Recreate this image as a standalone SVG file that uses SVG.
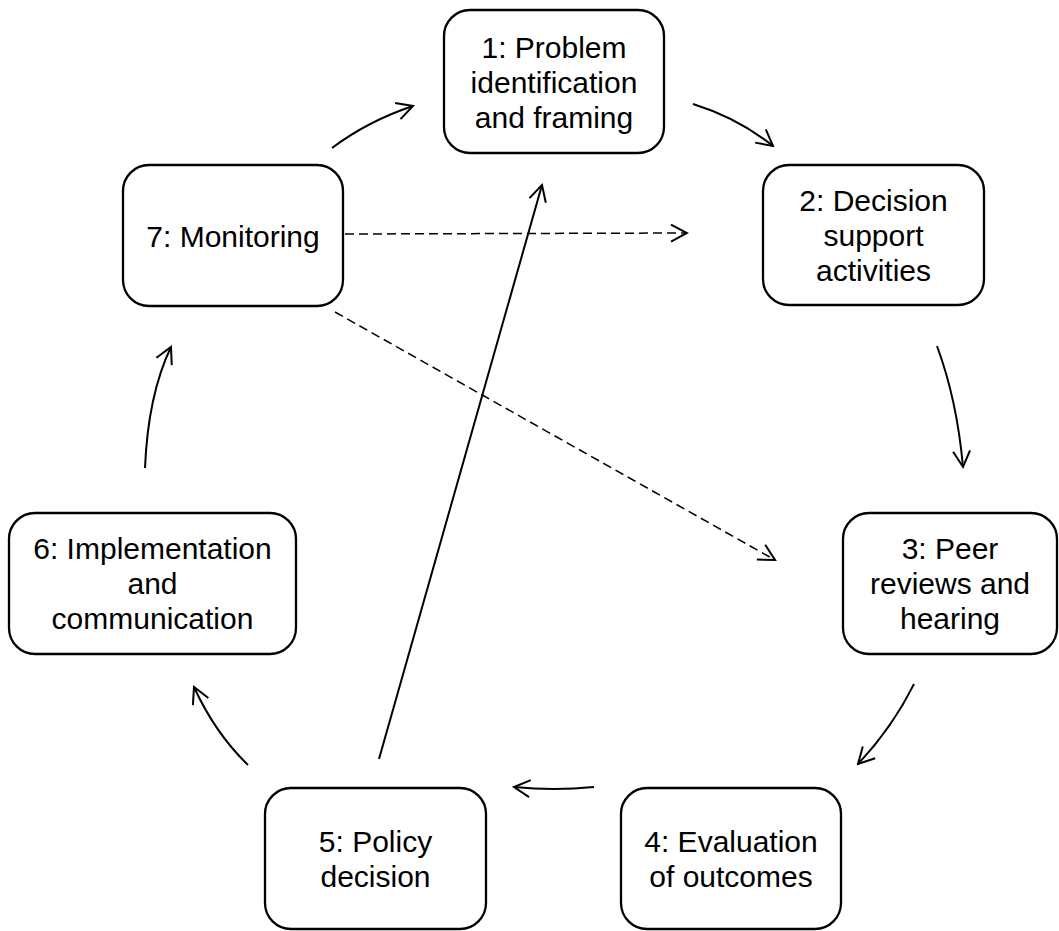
<svg xmlns="http://www.w3.org/2000/svg" width="1059" height="931" viewBox="0 0 1059 931">
<style>
.box{fill:#fff;stroke:#000;stroke-width:2.3}
.t{font-family:"Liberation Sans",Arial,sans-serif;font-size:30px;fill:#000;text-anchor:middle}
.c{fill:none;stroke:#000;stroke-width:2}
.d{fill:none;stroke:#000;stroke-width:1.5;stroke-dasharray:9,5}
</style>
<defs>
<marker id="ah" viewBox="0 0 20 20" refX="18" refY="10" markerWidth="20" markerHeight="20" markerUnits="userSpaceOnUse" orient="auto">
<path d="M2,1.5 L18,10 L2,18.5" fill="none" stroke="#000" stroke-width="2"/>
</marker>
</defs>
<rect width="1059" height="931" fill="#fff"/>
<g id="connectors">
<path class="c" d="M332,148 Q368,121 413,106" marker-end="url(#ah)"/>
<path class="c" d="M693,104 Q738,118 773,146" marker-end="url(#ah)"/>
<path class="c" d="M937,346 Q957,400 963,467" marker-end="url(#ah)"/>
<path class="c" d="M914,684 Q892,728 858,764" marker-end="url(#ah)"/>
<path class="c" d="M594,787 Q554,791 514,787" marker-end="url(#ah)"/>
<path class="c" d="M248,765 Q215,733 194,687" marker-end="url(#ah)"/>
<path class="c" d="M145,468 Q148,395 171,347" marker-end="url(#ah)"/>
<path class="c" d="M379,759 L542,185" marker-end="url(#ah)"/>
<path class="d" d="M345,234 L687,233" marker-end="url(#ah)"/>
<path class="d" d="M335,312 L775,560" marker-end="url(#ah)"/>
</g>
<g id="n1"><rect class="box" x="444" y="10" width="220" height="143" rx="26"/>
<text class="t" x="554" y="58">1: Problem</text><text class="t" x="554" y="93">identification</text><text class="t" x="554" y="128">and framing</text></g>
<g id="n2"><rect class="box" x="763" y="165" width="221" height="140" rx="26"/>
<text class="t" x="873.5" y="211">2: Decision</text><text class="t" x="873.5" y="246">support</text><text class="t" x="873.5" y="281">activities</text></g>
<g id="n3"><rect class="box" x="843" y="513" width="214" height="141" rx="26"/>
<text class="t" x="950" y="559">3: Peer</text><text class="t" x="950" y="594">reviews and</text><text class="t" x="950" y="629">hearing</text></g>
<g id="n4"><rect class="box" x="621" y="788" width="220" height="141" rx="26"/>
<text class="t" x="731" y="852">4: Evaluation</text><text class="t" x="731" y="887">of outcomes</text></g>
<g id="n5"><rect class="box" x="265" y="788" width="221" height="141" rx="26"/>
<text class="t" x="375.5" y="852">5: Policy</text><text class="t" x="375.5" y="887">decision</text></g>
<g id="n6"><rect class="box" x="9" y="513" width="287" height="141" rx="26"/>
<text class="t" x="152.5" y="559">6: Implementation</text><text class="t" x="152.5" y="594">and</text><text class="t" x="152.5" y="629">communication</text></g>
<g id="n7"><rect class="box" x="123" y="165" width="220" height="141" rx="26"/>
<text class="t" x="233" y="247">7: Monitoring</text></g>
</svg>
